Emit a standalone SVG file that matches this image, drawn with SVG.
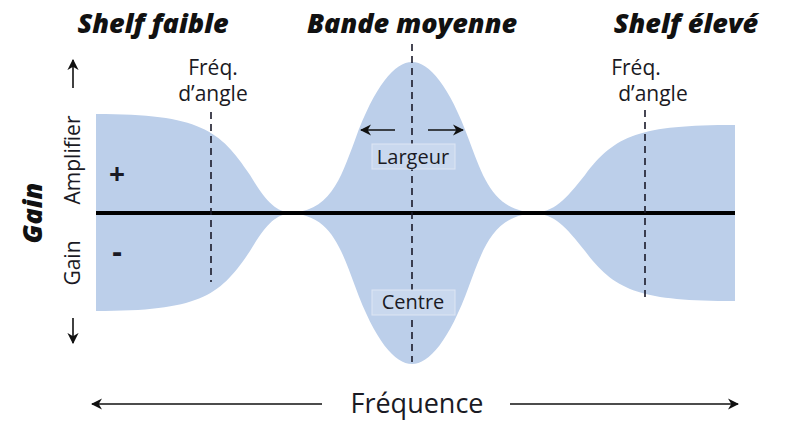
<svg xmlns="http://www.w3.org/2000/svg" width="787" height="423" viewBox="0 0 787 423">
<style>
.t{font-family:"Open Sans","Liberation Sans",sans-serif;fill:#1a1a24}
.h{font-family:"Open Sans","Liberation Sans",sans-serif;font-weight:800;font-style:italic;font-size:27px;fill:#111}
.d{stroke:#1a1a2a;stroke-width:1.6;stroke-dasharray:7,5;fill:none}
.a{stroke:#111;stroke-width:1.6;fill:none}
</style>
<defs><marker id="m" viewBox="0 0 10 10" refX="9" refY="5" markerWidth="7" markerHeight="7" orient="auto"><path d="M0,0L10,5L0,10L3,5z" fill="#111"/></marker></defs>
<g id="curve">
<path d="M96,114 C200,114 220,130 250,175 C265,200 275,212 292,213 C275,214 265,226 250,251 C220,296 200,311 96,311Z" fill="#bccfea"/>
<path d="M286,213 C330,213 340,180 355,140 C375,85 395,62 412,62 C429,62 449,85 469,140 C484,180 494,213 540,213 C494,213 484,246 469,286 C449,341 429,364 412,364 C395,364 375,341 355,286 C340,246 330,213 286,213Z" fill="#bccfea"/>
<path d="M532,213 C555,212 565,200 585,175 C615,135 640,125 735,125 L735,301 C640,301 615,291 585,251 C565,226 555,214 532,213Z" fill="#bccfea"/>
</g>
<g id="connectors">
<line x1="96" y1="213" x2="735" y2="213" stroke="#000" stroke-width="4"/>
<line class="d" x1="211" y1="112" x2="211" y2="282"/>
<line class="d" x1="412" y1="44" x2="412" y2="362"/>
<line class="d" x1="645" y1="110" x2="645" y2="298"/>
<line class="a" x1="395" y1="130" x2="361" y2="130" marker-end="url(#m)"/>
<line class="a" x1="428" y1="130" x2="463" y2="130" marker-end="url(#m)"/>
<line class="a" x1="73" y1="88" x2="73" y2="60" marker-end="url(#m)"/>
<line class="a" x1="73" y1="318" x2="73" y2="343" marker-end="url(#m)"/>
<line class="a" x1="322" y1="404" x2="92" y2="404" marker-end="url(#m)"/>
<line class="a" x1="510" y1="404" x2="738" y2="404" marker-end="url(#m)"/>
</g>
<g id="titles">
<text class="h" x="153" y="33" text-anchor="middle">Shelf faible</text>
<text class="h" x="412" y="33" text-anchor="middle">Bande moyenne</text>
<text class="h" x="686" y="33" text-anchor="middle">Shelf élevé</text>
</g>
<g id="labels">
<text class="t" x="213" y="75" font-size="21" text-anchor="middle">Fréq.</text>
<text class="t" x="213" y="101" font-size="21" text-anchor="middle">d’angle</text>
<text class="t" x="636" y="75" font-size="21" text-anchor="middle">Fréq.</text>
<text class="t" x="653" y="101" font-size="21" text-anchor="middle">d’angle</text>
<text class="t" x="117" y="184" font-size="28" font-weight="bold" text-anchor="middle">+</text>
<text class="t" x="117" y="262" font-size="30" font-weight="bold" text-anchor="middle">-</text>
<text class="t" transform="translate(80,160) rotate(-90)" font-size="21" text-anchor="middle">Amplifier</text>
<text class="t" transform="translate(80,263) rotate(-90)" font-size="21" text-anchor="middle">Gain</text>
<text class="h" transform="translate(42,213) rotate(-90)" font-size="31" text-anchor="middle">Gain</text>
<rect x="372" y="144" width="83" height="25" fill="#c9d8ee" stroke="#dde6f3"/>
<text class="t" x="413" y="164" font-size="20" text-anchor="middle">Largeur</text>
<rect x="372" y="290" width="83" height="25" fill="#c9d8ee" stroke="#dde6f3"/>
<text class="t" x="413" y="309" font-size="20" text-anchor="middle">Centre</text>
<text class="t" x="417" y="413" font-size="27" text-anchor="middle">Fréquence</text>
</g>
</svg>
